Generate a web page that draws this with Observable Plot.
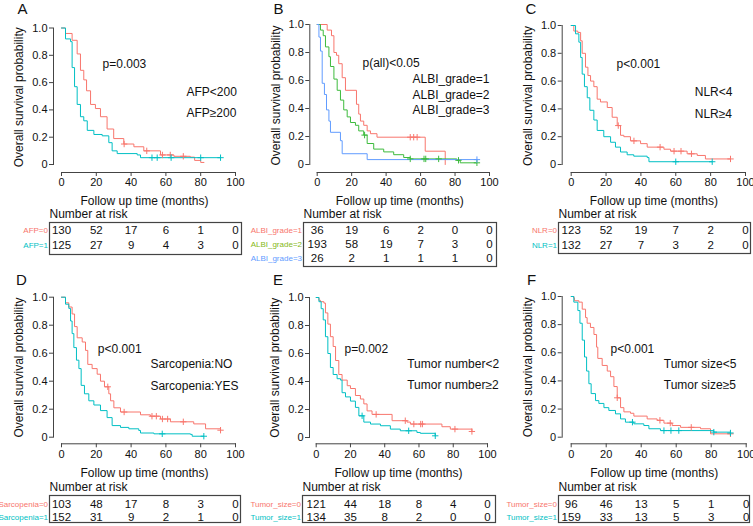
<!DOCTYPE html>
<html><head><meta charset="utf-8">
<script src="https://cdn.jsdelivr.net/npm/d3@7"></script>
<script src="https://cdn.jsdelivr.net/npm/@observablehq/plot@0.6"></script>
<style>
body{margin:0;background:#fff;}
#fig{position:relative;width:753px;height:526px;overflow:hidden;background:#fff;font-family:"Liberation Sans",Arial,sans-serif;}
#fig svg{position:absolute;overflow:visible;}
</style></head><body><div id="fig"></div>
<script>
// ---------- shared ticks ----------
const xTicks = [0, 20, 40, 60, 80, 100];
const yTicks = [0, 0.2, 0.4, 0.6, 0.8, 1];
const riskTimes = [0, 20, 40, 60, 80, 100];

// ---------- Panel A : AFP ----------
const afpLowTime = [0, 2.3, 6.1, 9, 10.9, 12.8, 14.4, 16.7, 19.5, 22.4, 26.2, 30, 35.8, 41.6, 47.3, 56.9, 64.6, 74, 76.5, 80, 82];
const afpLowSurv = [1, 0.96, 0.91, 0.81, 0.69, 0.62, 0.54, 0.44, 0.41, 0.35, 0.26, 0.19, 0.15, 0.13, 0.10, 0.07, 0.06, 0.054, 0.03, 0.015, 0.015];
const afpLowCensor = [36, 49, 58, 62.5, 70];
const afpLowRisk = [130, 52, 17, 6, 1, 0];
const afpHighTime = [0, 2.3, 5.2, 6.1, 7.5, 9, 10.9, 12.8, 14.8, 18.6, 23.4, 27.2, 29.1, 32, 43.5, 45.4, 91.4];
const afpHighSurv = [1, 0.92, 0.90, 0.71, 0.57, 0.44, 0.35, 0.32, 0.25, 0.22, 0.21, 0.16, 0.10, 0.08, 0.07, 0.05, 0.05];
const afpHighCensor = [52, 55, 63, 80, 91.4];
const afpHighRisk = [125, 27, 9, 4, 3, 0];

// ---------- Panel B : ALBI grade ----------
const albi1Time = [0, 5.8, 8.3, 9.7, 11.2, 12.5, 14.5, 16.4, 22.8, 24.1, 25.1, 27, 29, 30.9, 34.7, 62.7, 74.3];
const albi1Surv = [1, 0.96, 0.92, 0.80, 0.78, 0.72, 0.62, 0.53, 0.43, 0.36, 0.31, 0.28, 0.24, 0.22, 0.195, 0.095, 0];
const albi1Censor = [54, 56, 58];
const albi1Risk = [36, 19, 6, 2, 0, 0];
const albi2Time = [0, 1.9, 3.5, 4.8, 6.8, 7.7, 9.7, 11.6, 13.5, 15.4, 17.4, 19.3, 22.2, 24.1, 27, 29, 32.8, 38.6, 44.4, 50.2, 54, 81, 83, 92.7];
const albi2Surv = [1, 0.96, 0.92, 0.84, 0.77, 0.70, 0.61, 0.53, 0.46, 0.39, 0.34, 0.30, 0.28, 0.24, 0.21, 0.15, 0.11, 0.09, 0.07, 0.05, 0.04, 0.03, 0.012, 0.012];
const albi2Censor = [27.5, 54, 62, 63, 70.5, 82, 92.7];
const albi2Risk = [193, 58, 19, 7, 3, 0];
const albi3Time = [0, 1, 1.9, 2.9, 4.2, 5.4, 6.8, 7.7, 13.5, 14.5, 29, 92.7];
const albi3Surv = [1, 0.91, 0.81, 0.58, 0.50, 0.39, 0.31, 0.23, 0.17, 0.077, 0.035, 0.035];
const albi3Censor = [92.7];
const albi3Risk = [26, 2, 1, 1, 1, 0];

// ---------- Panel C : NLR ----------
const nlrLowTime = [0, 1.5, 3.8, 5.4, 6.3, 8.2, 9.6, 11.1, 13, 14.9, 16.8, 20.7, 23.5, 26.4, 28.3, 30.2, 34, 39.8, 43.6, 53.2, 57, 66.5, 72.3, 77, 91.4];
const nlrLowSurv = [1, 0.96, 0.95, 0.89, 0.80, 0.70, 0.64, 0.60, 0.56, 0.47, 0.45, 0.41, 0.34, 0.28, 0.21, 0.20, 0.17, 0.15, 0.125, 0.11, 0.096, 0.077, 0.065, 0.04, 0.04];
const nlrLowCensor = [27, 36, 51, 59, 63, 69, 91.4];
const nlrLowRisk = [123, 52, 19, 7, 2, 0];
const nlrHighTime = [0, 2.5, 4.4, 5.4, 6.3, 7.6, 9.2, 10.7, 13, 14.9, 18.7, 22.6, 25.4, 28.3, 32.1, 35.9, 43.6, 44.6, 80.9];
const nlrHighSurv = [1, 0.94, 0.88, 0.77, 0.65, 0.56, 0.48, 0.39, 0.32, 0.245, 0.20, 0.16, 0.125, 0.09, 0.07, 0.06, 0.05, 0.02, 0.02];
const nlrHighCensor = [60, 80.9];
const nlrHighRisk = [132, 27, 7, 3, 2, 0];

// ---------- Panel D : Sarcopenia ----------
const sarcoNoTime = [0, 2.3, 4.2, 6.1, 7.5, 9, 11.9, 13.8, 15.1, 17.6, 20.5, 22.4, 24.7, 27.2, 28.2, 30.1, 33.9, 45.4, 51.1, 56.9, 62.6, 76, 82.8, 91.4];
const sarcoNoSurv = [1, 0.96, 0.93, 0.88, 0.79, 0.71, 0.68, 0.62, 0.52, 0.49, 0.45, 0.40, 0.36, 0.31, 0.26, 0.21, 0.18, 0.16, 0.15, 0.13, 0.11, 0.095, 0.06, 0.05];
const sarcoNoCensor = [26.6, 36, 52, 54.5, 58, 61, 70, 91.4];
const sarcoNoRisk = [103, 48, 17, 8, 3, 0];
const sarcoYesTime = [0, 2.3, 4.2, 5.2, 6.1, 7.1, 8.6, 10, 11.3, 13.2, 15.7, 18.6, 22.4, 26.2, 29.1, 33.9, 38.7, 44.4, 45.4, 53.1, 74.1, 75.1, 81.8];
const sarcoYesSurv = [1, 0.95, 0.92, 0.83, 0.74, 0.64, 0.55, 0.49, 0.37, 0.31, 0.26, 0.23, 0.19, 0.14, 0.083, 0.07, 0.06, 0.048, 0.03, 0.024, 0.02, 0.007, 0.007];
const sarcoYesCensor = [57.9, 81.8];
const sarcoYesRisk = [152, 31, 9, 2, 1, 0];

// ---------- Panel E : Tumor number ----------
const tnumLowTime = [0, 1.6, 2.5, 4.5, 5.4, 6.8, 8.3, 9.9, 11.3, 13.2, 15.1, 18.1, 20, 22.9, 25.8, 27.8, 29.7, 32.6, 44.3, 53, 55, 73.4, 78.3, 90.9];
const tnumLowSurv = [1, 0.98, 0.97, 0.96, 0.89, 0.81, 0.72, 0.65, 0.55, 0.45, 0.41, 0.37, 0.35, 0.30, 0.275, 0.24, 0.19, 0.165, 0.12, 0.11, 0.096, 0.077, 0.06, 0.043];
const tnumLowCensor = [35, 52, 57, 61, 62, 81, 90.9];
const tnumLowRisk = [121, 44, 18, 8, 4, 0];
const tnumHighTime = [0, 1.6, 2.9, 4.1, 5.4, 6.8, 8.3, 9.9, 12.2, 14.2, 15.1, 17.1, 20, 22.9, 24.9, 27.8, 31.7, 37.5, 43.3, 49.1, 58.8, 60.8, 69.5];
const tnumHighSurv = [1, 0.97, 0.92, 0.84, 0.72, 0.60, 0.50, 0.45, 0.42, 0.41, 0.32, 0.29, 0.26, 0.215, 0.155, 0.11, 0.096, 0.084, 0.06, 0.048, 0.036, 0.03, 0.012];
const tnumHighCensor = [26.8, 54, 69.5];
const tnumHighRisk = [134, 35, 8, 2, 0, 0];

// ---------- Panel F : Tumor size ----------
const tsizeLowTime = [0, 1.5, 1.9, 4.4, 6.3, 8.2, 9.1, 11, 13, 14.5, 15.2, 17.7, 20.6, 22.5, 24.4, 26.3, 28.2, 30.1, 33.9, 35.8, 43.4, 49.1, 53, 57.7, 62.5, 73.9, 79.6, 91];
const tsizeLowSurv = [1, 0.99, 0.97, 0.96, 0.91, 0.85, 0.81, 0.78, 0.73, 0.64, 0.56, 0.51, 0.47, 0.43, 0.36, 0.28, 0.21, 0.18, 0.17, 0.15, 0.13, 0.12, 0.10, 0.083, 0.07, 0.06, 0.024, 0.024];
const tsizeLowCensor = [26.3, 50.7, 56.6, 68.6, 91];
const tsizeLowRisk = [96, 46, 13, 5, 1, 0];
const tsizeHighTime = [0, 1.5, 3.8, 5, 6.3, 7.6, 8.8, 10.1, 11.4, 13.9, 15.8, 18.7, 21.5, 25.3, 28.2, 31, 35.8, 41.5, 44.4, 51, 81.5, 91];
const tsizeHighSurv = [1, 0.96, 0.90, 0.81, 0.69, 0.57, 0.47, 0.38, 0.31, 0.26, 0.24, 0.21, 0.19, 0.166, 0.13, 0.107, 0.095, 0.083, 0.06, 0.047, 0.036, 0.03];
const tsizeHighCensor = [35, 53, 57, 61.5, 81.5, 91];
const tsizeHighRisk = [159, 33, 13, 5, 3, 0];

// ---------- texts ----------
const panelLetters = ["A", "B", "C", "D", "E", "F"];
const pValues = ["p=0.003", "p(all)<0.05", "p<0.001", "p<0.001", "p=0.002", "p<0.001"];
const legendA = ["AFP<200", "AFP\u2265200"];
const legendB = ["ALBI_grade=1", "ALBI_grade=2", "ALBI_grade=3"];
const legendC = ["NLR<4", "NLR\u22654"];
const legendD = ["Sarcopenia:NO", "Sarcopenia:YES"];
const legendE = ["Tumor number<2", "Tumor number\u22652"];
const legendF = ["Tumor size<5", "Tumor size\u22655"];
const rowsA = ["AFP=0", "AFP=1"];
const rowsB = ["ALBI_grade=1", "ALBI_grade=2", "ALBI_grade=3"];
const rowsC = ["NLR=0", "NLR=1"];
const rowsD = ["Sarcopenia=0", "Sarcopenia=1"];
const rowsE = ["Tumor_size=0", "Tumor_size=1"];
const rowsF = ["Tumor_size=0", "Tumor_size=1"];
const yTitle = "Overall survival probability";
const xTitle = "Follow up time (months)";
const riskTitle = "Number at risk";

// ---------- styling (colors, layout) ----------
const RED = "#F8766D", CYAN = "#00BFC4", GREEN = "#3DBB3D", BLUE = "#619CFF";
const LBL_RED = "#F8766D", LBL_CYAN = "#00BFC4", LBL_GREEN = "#86B917", LBL_BLUE = "#619CFF";
const FONT = '"Liberation Sans", Arial, sans-serif';
const INK = "#111";

const panels = [
  {series: [
    {t: afpLowTime, s: afpLowSurv, c: afpLowCensor, risk: afpLowRisk, color: RED, lcolor: LBL_RED},
    {t: afpHighTime, s: afpHighSurv, c: afpHighCensor, risk: afpHighRisk, color: CYAN, lcolor: LBL_CYAN}],
   legend: legendA, rows: rowsA, pPos: [23.6, 0.733], legX: 71.8, legY: [0.527, 0.374],
   geo: {L: 0, T: 0, w: 250, h: 208, x0: 61, x100: 235, y1: 27.5, y0: 164, yAx: 53, xAx: 172, letter: [22, 8.5],
         tab: {T: 205, h: 65, bl: 49, br: 241, bt: 222, bb: 254, rows: [230, 245]}}},
  {series: [
    {t: albi1Time, s: albi1Surv, c: albi1Censor, risk: albi1Risk, color: RED, lcolor: LBL_RED},
    {t: albi2Time, s: albi2Surv, c: albi2Censor, risk: albi2Risk, color: GREEN, lcolor: LBL_GREEN},
    {t: albi3Time, s: albi3Surv, c: albi3Censor, risk: albi3Risk, color: BLUE, lcolor: LBL_BLUE}],
   legend: legendB, rows: rowsB, pPos: [26.3, 0.721], legX: 55.3, legY: [0.607, 0.493, 0.386],
   geo: {L: 250, T: 0, w: 250, h: 208, x0: 316.7, x100: 489, y1: 24, y0: 164, yAx: 309.3, xAx: 172, letter: [278, 8.5],
         tab: {T: 205, h: 65, bl: 303, br: 496, bt: 222, bb: 266, rows: [230, 244, 258]}}},
  {series: [
    {t: nlrLowTime, s: nlrLowSurv, c: nlrLowCensor, risk: nlrLowRisk, color: RED, lcolor: LBL_RED},
    {t: nlrHighTime, s: nlrHighSurv, c: nlrHighCensor, risk: nlrHighRisk, color: CYAN, lcolor: LBL_CYAN}],
   legend: legendC, rows: rowsC, pPos: [26, 0.719], legX: 70.9, legY: [0.518, 0.36],
   geo: {L: 500, T: 0, w: 253, h: 208, x0: 570.7, x100: 745, y1: 25, y0: 164, yAx: 561.7, xAx: 172, letter: [530.5, 9],
         tab: {T: 205, h: 65, bl: 558, br: 750, bt: 222, bb: 253, rows: [230, 245]}}},
  {series: [
    {t: sarcoNoTime, s: sarcoNoSurv, c: sarcoNoCensor, risk: sarcoNoRisk, color: RED, lcolor: LBL_RED},
    {t: sarcoYesTime, s: sarcoYesSurv, c: sarcoYesCensor, risk: sarcoYesRisk, color: CYAN, lcolor: LBL_CYAN}],
   legend: legendD, rows: rowsD, pPos: [20.9, 0.631], legX: 51.1, legY: [0.519, 0.364],
   geo: {L: 0, T: 265, w: 250, h: 215, x0: 61, x100: 235, y1: 296.7, y0: 436.7, yAx: 53, xAx: 443.3, letter: [21, 280],
         tab: {T: 476, h: 50, bl: 49, br: 240, bt: 495, bb: 522, rows: [504, 517]}}},
  {series: [
    {t: tnumLowTime, s: tnumLowSurv, c: tnumLowCensor, risk: tnumLowRisk, color: RED, lcolor: LBL_RED},
    {t: tnumHighTime, s: tnumHighSurv, c: tnumHighCensor, risk: tnumHighRisk, color: CYAN, lcolor: LBL_CYAN}],
   legend: legendE, rows: rowsE, pPos: [16.5, 0.634], legX: 53.1, legY: [0.521, 0.371],
   geo: {L: 250, T: 265, w: 250, h: 215, x0: 315.7, x100: 487, y1: 297, y0: 437, yAx: 309, xAx: 443.3, letter: [277.5, 280],
         tab: {T: 476, h: 50, bl: 302, br: 495, bt: 495, bb: 522, rows: [504, 517]}}},
  {series: [
    {t: tsizeLowTime, s: tsizeLowSurv, c: tsizeLowCensor, risk: tsizeLowRisk, color: RED, lcolor: LBL_RED},
    {t: tsizeHighTime, s: tsizeHighSurv, c: tsizeHighCensor, risk: tsizeHighRisk, color: CYAN, lcolor: LBL_CYAN}],
   legend: legendF, rows: rowsF, pPos: [22.5, 0.628], legX: 52.9, legY: [0.517, 0.372],
   geo: {L: 500, T: 265, w: 253, h: 215, x0: 570.7, x100: 745.7, y1: 296, y0: 436.7, yAx: 561.7, xAx: 443.3, letter: [531, 280],
         tab: {T: 476, h: 50, bl: 558, br: 749, bt: 495, bb: 522, rows: [504, 517]}}}
];

function survAt(times, surv, time) {
  let v = surv[0];
  for (let i = 0; i < times.length; i++) if (times[i] <= time) v = surv[i];
  return v;
}

const fig = document.getElementById("fig");

panels.forEach((p, k) => {
  const g = p.geo;
  const names = p.series.map((s, i) => p.legend[i]);
  const colors = p.series.map(s => s.color);
  const pts = p.series.flatMap((s, i) => s.t.map((t, j) => ({t, s: s.s[j], g: names[i]})));
  const cens = p.series.flatMap((s, i) => s.c.map(t => ({t, s: survAt(s.t, s.s, t), g: names[i]})));
  const legendRows = p.legend.map((txt, i) => ({txt, y: p.legY[i]}));

  const km = Plot.plot({
    width: g.w, height: g.h,
    marginLeft: g.yAx - g.L, marginRight: g.L + g.w - g.x100,
    marginTop: g.y1 - g.T, marginBottom: g.T + g.h - g.xAx,
    x: {domain: [0, 100], range: [g.x0 - g.L, g.x100 - g.L]},
    y: {domain: [0, 1], range: [g.y0 - g.T, g.y1 - g.T]},
    color: {domain: names, range: colors},
    style: {fontFamily: FONT, fontSize: "11px", background: "transparent", color: INK},
    marks: [
      Plot.frame({anchor: "left", insetBottom: g.xAx - g.y0, stroke: "#444"}),
      Plot.frame({anchor: "bottom", insetLeft: g.x0 - g.yAx, stroke: "#444"}),
      Plot.axisY({ticks: yTicks, tickFormat: d => d === 0 ? "0" : d.toFixed(1), tickSize: 4, tickPadding: 2, label: null, fontSize: 11, stroke: "#444"}),
      Plot.axisX({ticks: xTicks, tickFormat: d => String(d), tickSize: 4, tickPadding: 2, label: null, fontSize: 11, stroke: "#444"}),
      Plot.line(pts, {x: "t", y: "s", z: "g", stroke: "g", curve: "step-after", strokeWidth: 1}),
      Plot.dot(cens, {x: "t", y: "s", stroke: "g", symbol: "plus", r: 2.2, strokeWidth: 1}),
      Plot.text([pValues[k]], {x: () => p.pPos[0], y: () => p.pPos[1], text: d => d, textAnchor: "start", fontSize: 12, fill: INK}),
      Plot.text(legendRows, {x: () => p.legX, y: "y", text: "txt", textAnchor: "start", fontSize: 12, fill: INK}),
      Plot.text([yTitle], {frameAnchor: "left", rotate: -90, dx: -34, dy: -3, textAnchor: "middle", lineAnchor: "middle", text: d => d, fontSize: 12, fill: INK}),
      Plot.text([xTitle], {frameAnchor: "bottom", dy: 29, textAnchor: "middle", lineAnchor: "middle", text: d => d, fontSize: 12, fill: INK}),
      Plot.text([panelLetters[k]], {frameAnchor: "top-left", dx: g.letter[0] - g.yAx, dy: g.letter[1] - g.y1, textAnchor: "middle", lineAnchor: "middle", text: d => d, fontSize: 15, fill: INK})
    ]
  });
  km.style.left = g.L + "px";
  km.style.top = g.T + "px";
  fig.appendChild(km);

  const tb = g.tab;
  const cells = p.series.flatMap((s, i) => riskTimes.map((t, j) => ({t, n: s.risk[j], g: p.rows[i]})));
  const rowLabels = p.series.map((s, i) => ({name: p.rows[i], color: s.lcolor}));
  const risk = Plot.plot({
    width: g.w, height: tb.h,
    marginLeft: tb.bl - g.L, marginRight: g.L + g.w - tb.br,
    marginTop: tb.bt - tb.T, marginBottom: tb.T + tb.h - tb.bb,
    x: {domain: [0, 100], range: [g.x0 - g.L, g.x100 - g.L], axis: null},
    y: {type: "point", domain: p.rows, padding: 0, range: [tb.rows[0] - tb.T, tb.rows[tb.rows.length - 1] - tb.T], axis: null},
    style: {fontFamily: FONT, fontSize: "11px", background: "transparent", color: INK},
    marks: [
      Plot.frame({stroke: "#444", strokeWidth: 1.2}),
      Plot.text(cells, {x: "t", y: "g", text: "n", fontSize: 11.5, fill: INK}),
      Plot.text(rowLabels, {y: "name", text: "name", frameAnchor: "left", textAnchor: "end", lineAnchor: "middle", dx: -1.5, fontSize: 8, fill: d => d.color}),
      Plot.text([riskTitle], {frameAnchor: "top-left", dy: -8, textAnchor: "start", lineAnchor: "middle", text: d => d, fontSize: 12, fill: INK})
    ]
  });
  risk.style.left = g.L + "px";
  risk.style.top = tb.T + "px";
  fig.appendChild(risk);
});
</script>
</body></html>
